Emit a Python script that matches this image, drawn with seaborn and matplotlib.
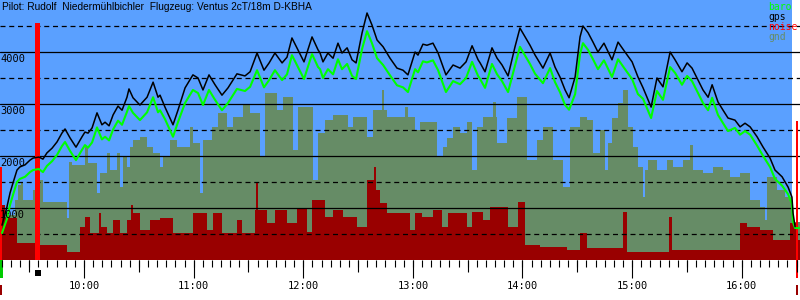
import numpy as np
import matplotlib
matplotlib.use('Agg')
import matplotlib.pyplot as plt
import seaborn as sns
from matplotlib.transforms import offset_copy

# ---------------- data (time in minutes after midnight, altitude in m) ----------------
title_text = "Pilot: Rudolf  Niedermühlbichler  Flugzeug: Ventus 2cT/18m D-KBHA"

gps_t = [555.1, 557.8, 559.5, 561.1, 563.3, 564.9, 567.7, 570.4, 572.1, 575.3,
         577.5, 579.7, 582.5, 585.2, 587.9, 589.6, 592.3, 595.6, 598.9, 600.5,
         602.2, 604.4, 607.1, 609.8, 611.5, 613.7, 615.9, 618.6, 620.8, 623.5,
         624.6, 626.8, 630.6, 634.5, 637.8, 640.5, 641.6, 644.3, 648.7, 651.4,
         655.3, 659.6, 662.4, 665.1, 668.4, 671.7, 675.5, 678.8, 683.7, 688.1,
         690.9, 694.7, 698.5, 701.3, 704.5, 708.4, 711.1, 713.8, 717.1, 720.4,
         724.8, 728.1, 729.2, 730.8, 733.5, 736.3, 739.0, 741.2, 744.0, 746.7,
         748.9, 752.2, 754.9, 757.6, 760.4, 763.7, 767.5, 771.3, 774.6, 777.3,
         781.2, 782.8, 785.5, 787.7, 791.0, 793.8, 798.1, 802.0, 805.8, 809.1,
         812.4, 815.7, 816.8, 819.5, 823.3, 826.1, 828.8, 832.1, 835.9, 838.6,
         841.4, 844.1, 846.9, 851.2, 855.1, 857.8, 860.5, 863.3, 865.5, 868.8,
         871.5, 873.1, 875.9, 878.6, 881.3, 884.6, 889.0, 892.3, 896.1, 900.0,
         903.2, 906.0, 910.4, 913.6, 916.9, 920.8, 923.5, 927.3, 930.1, 932.8,
         935.5, 938.8, 941.6, 943.8, 947.0, 949.8, 952.5, 956.3, 959.1, 961.8,
         964.6, 968.4, 971.7, 975.5, 978.2, 982.1, 985.4, 987.5, 988.1, 989.2]

gps_m = [670, 1020, 1290, 1480, 1730, 1790, 1830, 1920, 1960, 1980,
         1940, 2060, 2150, 2270, 2440, 2520, 2350, 2170, 2370, 2460,
         2440, 2540, 2830, 2600, 2650, 2580, 2790, 2960, 2880, 3130,
         3290, 3120, 2980, 3130, 3420, 3130, 3170, 2940, 2600, 2880,
         3310, 3560, 3500, 3270, 3560, 3370, 3170, 3310, 3580, 3540,
         3620, 3980, 3650, 3790, 3980, 3790, 3900, 4270, 4040, 3810,
         4290, 4040, 3980, 3810, 3980, 3880, 4170, 3980, 4080, 3850,
         3790, 4370, 4750, 4520, 4230, 4100, 3880, 3690, 3650, 3560,
         4000, 3940, 4150, 4130, 4170, 3980, 3560, 3750, 3690, 3810,
         4120, 3850, 3790, 3620, 4080, 3880, 3750, 3540, 4100, 4460,
         4290, 4130, 3940, 3690, 3980, 3710, 3520, 3270, 3120, 3520,
         4290, 4500, 4370, 4190, 4000, 4170, 3850, 4190, 4000, 3810,
         3520, 3310, 2940, 3500, 3330, 4000, 3850, 3620, 3790, 3690,
         3500, 3270, 3130, 3370, 3040, 2880, 2730, 2690, 2560, 2630,
         2560, 2370, 2170, 1960, 1730, 1600, 1400, 1210, 900, 640]

baro_t = gps_t + [991.9]
baro_m = [520, 790, 1060, 1250, 1500, 1560, 1600, 1690, 1730, 1750,
          1690, 1810, 1900, 2020, 2190, 2270, 2100, 1920, 2120, 2210,
          2160, 2260, 2550, 2320, 2370, 2300, 2510, 2680, 2600, 2850,
          2960, 2830, 2690, 2840, 3130, 2840, 2880, 2710, 2370, 2650,
          3020, 3270, 3210, 2980, 3270, 3080, 2880, 3020, 3290, 3250,
          3330, 3650, 3320, 3460, 3650, 3460, 3570, 3940, 3710, 3480,
          3960, 3710, 3670, 3500, 3670, 3570, 3860, 3670, 3770, 3540,
          3480, 4060, 4400, 4170, 3880, 3750, 3550, 3360, 3320, 3230,
          3670, 3610, 3820, 3800, 3840, 3650, 3230, 3440, 3380, 3500,
          3810, 3540, 3480, 3310, 3770, 3570, 3440, 3230, 3740, 4100,
          3930, 3770, 3580, 3400, 3690, 3420, 3230, 2980, 2890, 3190,
          3960, 4170, 4040, 3860, 3670, 3840, 3520, 3860, 3670, 3480,
          3190, 3100, 2730, 3250, 3080, 3710, 3600, 3370, 3540, 3440,
          3250, 3020, 2880, 3120, 2790, 2630, 2480, 2540, 2410, 2480,
          2410, 2200, 2000, 1790, 1560, 1430, 1265, 1075, 730, 615,
          615]

gnd_t = [554.0, 562.2, 563.9, 565.5, 566.6, 572.1, 575.9, 577.5, 590.7, 591.8,
         593.4, 600.5, 602.2, 607.1, 608.7, 612.6, 614.2, 618.0, 619.7, 621.3,
         623.5, 625.2, 626.8, 630.6, 634.5, 637.8, 641.6, 643.2, 647.1, 650.9,
         658.0, 659.6, 663.5, 665.1, 670.0, 673.3, 678.3, 681.5, 687.0, 690.9,
         696.3, 699.1, 705.6, 708.9, 714.4, 717.1, 725.3, 728.1, 731.9, 736.3,
         744.5, 747.2, 754.9, 758.2, 763.1, 764.2, 765.8, 773.0, 775.7, 777.3,
         781.2, 783.9, 793.2, 796.5, 798.7, 802.0, 805.8, 809.6, 812.4, 815.1,
         818.4, 823.9, 825.5, 826.1, 831.5, 837.0, 842.5, 848.0, 851.2, 856.7,
         862.2, 866.0, 871.5, 875.3, 878.6, 882.4, 885.2, 886.8, 889.0, 892.3,
         895.0, 897.8, 900.5, 903.2, 906.0, 907.1, 908.7, 913.6, 919.1, 922.4,
         927.9, 931.7, 933.3, 938.8, 944.3, 949.8, 953.6, 959.1, 964.6, 970.0,
         972.8, 973.9, 979.3, 983.7, 987.5, 991.9]
gnd_m = [865, 1150, 1440, 1500, 1150, 1350, 1540, 1120, 810, 1890,
         1830, 2170, 1870, 1290, 1670, 2060, 1730, 2060, 1400, 1980,
         1790, 2170, 2310, 2370, 2170, 2060, 1790, 1980, 2310, 2170,
         2560, 2250, 1290, 2310, 2560, 2830, 2560, 2750, 2980, 2830,
         1980, 3210, 2890, 3130, 2120, 2940, 1540, 2440, 2690, 2790,
         2560, 2750, 2370, 2890, 3270, 2890, 2750, 2750, 2940, 2750,
         2500, 2650, 1980, 2170, 2350, 2560, 2440, 2650, 1730, 2560,
         2750, 3040, 2750, 2250, 2730, 3130, 1920, 2310, 2560, 1920,
         1400, 2560, 2750, 2690, 2060, 2500, 1730, 2250, 2730, 3020,
         3270, 2560, 2170, 1790, 1210, 1730, 1920, 1730, 1920, 1790,
         1920, 2210, 1730, 1670, 1790, 1730, 1600, 1670, 1150, 1020,
         770, 1600, 1350, 1210, 730, 730]

noise_t = [554.0, 556.7, 563.3, 573.2, 575.3, 590.7, 597.8, 600.5, 603.3, 608.2,
           609.3, 612.6, 615.9, 619.7, 623.5, 625.7, 626.8, 630.6, 636.1, 641.6,
           648.7, 659.6, 667.3, 670.6, 675.5, 683.7, 686.5, 693.6, 694.1, 695.2,
           700.2, 704.5, 711.1, 716.6, 722.0, 724.8, 731.9, 736.3, 741.8, 749.4,
           754.9, 758.7, 759.8, 762.0, 765.8, 778.4, 781.2, 785.0, 791.0, 796.0,
           799.2, 809.6, 812.4, 818.4, 822.2, 832.1, 837.6, 841.4, 849.6, 864.4,
           871.5, 875.3, 895.0, 897.2, 920.2, 921.9, 959.1, 962.9, 970.0, 977.1,
           986.5, 990.3, 991.9]
noise_m = [1060, 810, 330, 1400, 290, 150, 630, 830, 520, 900,
           630, 520, 770, 520, 770, 1060, 900, 580, 770, 810,
           520, 900, 580, 900, 520, 770, 520, 960, 1480, 960,
           710, 960, 710, 1000, 540, 1150, 830, 960, 830, 630,
           1540, 1790, 1350, 1100, 900, 580, 900, 830, 960, 630,
           900, 630, 920, 770, 1020, 630, 1120, 290, 250, 190,
           520, 230, 920, 150, 830, 190, 710, 630, 580, 380,
           710, 380, 380]

# bright red markers (start, end, top)
mark_t0 = [554.0, 573.2, 989.7]
mark_t1 = [555.1, 575.9, 990.6]
mark_top = [1790, 4560, 2670]

solid_levels = [1000, 2000, 3000, 4000]
dashed_levels = [500, 1500, 2500, 3500, 4500]
hour_ticks = [600, 660, 720, 780, 840, 900, 960]
hour_labels = ["10:00", "11:00", "12:00", "13:00", "14:00", "15:00", "16:00"]
legend_names = ["baro", "gps", "noise", "gnd"]

T0, T1 = 554.0, 991.9
BLUE_END = 987.5
BLUE = "#5aa0ff"
GND = "#668c66"
NOISE = "#990000"
BARO = "#00ff00"

# ---------------- plot ----------------
sns.set_style("white")
plt.rcParams['font.family'] = ['DejaVu Sans']

fig = plt.figure(figsize=(8, 3), dpi=100)
ax = fig.add_axes([0, 40 / 300, 1, 260 / 300])
ax2 = fig.add_axes([0, 0, 1, 40 / 300], sharex=ax)

ax.set_xlim(T0, T1)
ax.set_ylim(0, 5000)
ax.set_facecolor("white")
for s in ax.spines.values():
    s.set_visible(False)
ax.tick_params(left=False, bottom=False, labelleft=False, labelbottom=False)
ax.axvspan(T0, BLUE_END, color=BLUE, lw=0, zorder=0)

ax.fill_between(gnd_t, gnd_m, step='post', color=GND, lw=0, zorder=1)
ax.fill_between(noise_t, noise_m, step='post', color=NOISE, lw=0, zorder=2)

for lv in solid_levels:
    ax.axhline(lv, color="black", lw=0.9, zorder=3)
for lv in dashed_levels:
    ax.axhline(lv, color="black", lw=0.9, ls=(0, (4, 3)), zorder=3)

for a, b, top in zip(mark_t0, mark_t1, mark_top):
    ax.bar(a, top, width=b - a, align='edge', color="#ff0000", lw=0, zorder=3.5)

sns.lineplot(x=baro_t, y=baro_m, ax=ax, color=BARO, lw=1.5, estimator=None,
             sort=False, zorder=4)
sns.lineplot(x=gps_t, y=gps_m, ax=ax, color="black", lw=1.1, estimator=None,
             sort=False, zorder=5)
ax.set_xlabel("")
ax.set_ylabel("")

# y labels inside plot, just below solid lines
for lv in solid_levels:
    tr = offset_copy(ax.transData, fig=fig, x=0, y=-2, units='dots')
    ax.text(T0, lv, str(lv), transform=tr, ha='left', va='top',
            family='DejaVu Sans Mono', fontsize=7.5, color='black', zorder=6)

# title
fig.text(2 / 800, 1 - 2 / 300, title_text, ha='left', va='top',
         family='Liberation Sans', fontsize=7.3, color='black')

# legend text
leg_colors = [BARO, "black", "#ff0000", GND]
for i, (nm, c) in enumerate(zip(legend_names, leg_colors)):
    fig.text(768 / 800, 1 - (2 + 10 * i) / 300, nm, ha='left', va='top',
             family='DejaVu Sans Mono', fontsize=7.0, color=c)

# bottom time strip
ax2.set_facecolor("white")
ax2.set_ylim(0, 1)
for s in ax2.spines.values():
    s.set_visible(False)
ax2.tick_params(left=False, bottom=False, labelleft=False, labelbottom=False)
minor = np.arange(555, 992, 5)
ax2.vlines(minor, 1 - 7 / 40, 1, color='black', lw=0.8)
ax2.vlines(np.arange(570, 992, 60), 1 - 12 / 40, 1, color='black', lw=0.8)
ax2.vlines(hour_ticks, 1 - 18 / 40, 1, color='black', lw=0.8)
for t, lab in zip(hour_ticks, hour_labels):
    ax2.text(t, 0.35, lab, ha='center', va='center', family='DejaVu Sans Mono',
             fontsize=7.5, color='black')
# takeoff / engine / landing marks in strip
ax2.bar(T0, 0.45, bottom=0.55, width=1.6, align='edge', color="#00cc00", lw=0)
ax2.bar(T0, 0.25, bottom=0.125, width=1.1, align='edge', color=NOISE, lw=0)
ax2.bar(mark_t0[1], 0.15, bottom=0.6, width=3.3, align='edge', color='black', lw=0)
ax2.bar(mark_t0[2], 0.45, bottom=0.55, width=0.9, align='edge', color="#ff0000", lw=0)
ax2.bar(mark_t0[2], 0.25, bottom=0.125, width=0.9, align='edge', color=NOISE, lw=0)
ax2.set_xlim(T0, T1)

fig.savefig("out.png", dpi=100)
